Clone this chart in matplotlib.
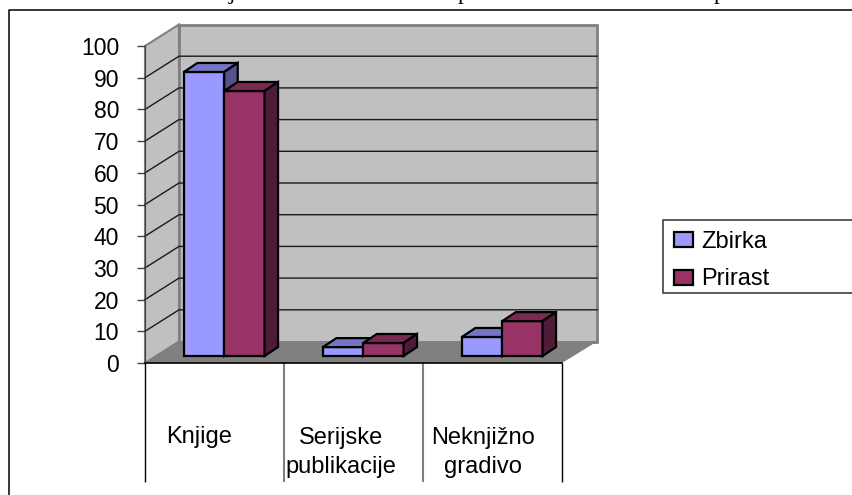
import matplotlib
matplotlib.use("Agg")
import matplotlib.pyplot as plt
from matplotlib.lines import Line2D
from matplotlib.patches import Patch, Polygon, Rectangle

plt.rcParams['font.family'] = ['Liberation Sans', 'DejaVu Sans']

categories = ['Knjige', 'Serijske\npublikacije', 'Neknjižno\ngradivo']
label_shift = [-0.11, -0.09, -0.07]   # labels sit a bit left of the category centre
series_names = ['Zbirka', 'Prirast']
zbirka = [89.6, 2.8, 6.0]
prirast = [83.6, 4.1, 11.0]
yticks = [0, 10, 20, 30, 40, 50, 60, 70, 80, 90, 100]

W, H = 852, 495
fig = plt.figure(figsize=(W / 100, H / 100), dpi=100)
# axes = front plane of the 3d box
ax = fig.add_axes([145 / W, 1 - 363 / H, 417 / W, 317 / H])
ax.set_xlim(0, 3)
ax.set_ylim(0, 100)
ax.patch.set_visible(False)

# depth of box and of bars, in data units
dx, dy = 34 / 139, 21.5 / 3.17
wall_r = 3 + 35 / 139
bar_dx, bar_dy = 13.5 / 139, 9 / 3.17
bar_w = 0.29
floor_up = 7 / 3.17

WALL = '#c0c0c0'
EDGE = '#808080'

# walls and floor
ax.add_patch(Polygon([(dx, dy), (wall_r, dy), (wall_r, 100 + dy), (dx, 100 + dy)],
                     fc=WALL, ec=EDGE, lw=2, clip_on=False, zorder=1))
ax.add_patch(Polygon([(0, 0), (dx, dy), (dx, 100 + dy), (0, 100)],
                     fc=WALL, ec=EDGE, lw=1.5, clip_on=False, zorder=1))
for t in yticks[1:-1]:
    ax.plot([0, dx, wall_r], [t, t + dy, t + dy], color='#1a1a1a', lw=1,
            clip_on=False, zorder=2)
ax.add_patch(Polygon([(0, 0), (dx, dy), (wall_r, dy), (3, 0)],
                     fc='#808080', ec='none', clip_on=False, zorder=2))


def draw_bars(lefts, vals, face, top, side):
    ax.bar(lefts, vals, width=bar_w, bottom=floor_up, align='edge', color=face,
           edgecolor='black', linewidth=1.6, clip_on=False, zorder=3)
    for x, v in zip(lefts, vals):
        y = floor_up + v
        ax.add_patch(Polygon([(x, y), (x + bar_dx, y + bar_dy),
                              (x + bar_w + bar_dx, y + bar_dy), (x + bar_w, y)],
                             fc=top, ec='black', lw=1.6, clip_on=False, zorder=3))
        ax.add_patch(Polygon([(x + bar_w, floor_up), (x + bar_w + bar_dx, floor_up + bar_dy),
                              (x + bar_w + bar_dx, y + bar_dy), (x + bar_w, y)],
                             fc=side, ec='black', lw=1.6, clip_on=False, zorder=3))


lefts = [i + 0.28 for i in range(3)]
draw_bars(lefts, zbirka, '#9999ff', '#7575c4', '#535390')
draw_bars([x + bar_w for x in lefts], prirast, '#993366', '#7a2952', '#4f1c37')

# separators below the floor
ax.vlines([0, 3], -37.6, 0, color='black', lw=1, clip_on=False, zorder=2)
ax.vlines([1, 2], -37.6, 0, color=EDGE, lw=1.5, clip_on=False, zorder=2)

for i, name in enumerate(categories):
    lab_y = -23.2 if '\n' not in name else -28.2
    ax.text(i + 0.5 + label_shift[i], lab_y, name, ha='center', va='center',
            fontsize=17, linespacing=1.43, clip_on=False)

ax.set_xticks([])
ax.set_yticks(yticks)
ax.tick_params(axis='y', length=6, width=1, pad=12.7, labelsize=16.5, color='#404040')
for s in ['top', 'right']:
    ax.spines[s].set_visible(False)
ax.spines['left'].set_color('#404040')
ax.spines['left'].set_zorder(4)
ax.spines['bottom'].set_color('black')
ax.spines['bottom'].set_linewidth(1.2)
ax.spines['bottom'].set_zorder(4)

# legend box runs off the right edge, so the frame is a separate rectangle
fig.add_artist(Rectangle((663 / W, 1 - 293 / H), 260 / W, 73 / H, fc='white', ec='#404040',
                         lw=1.2, transform=fig.transFigure))
handles = [Patch(fc='#9999ff', ec='black', lw=1.6), Patch(fc='#993366', ec='black', lw=1.6)]
fig.legend(handles, series_names, loc='lower left', frameon=False,
           bbox_to_anchor=(667.6 / W, 1 - 297 / H), borderaxespad=0, fontsize=17,
           handlelength=0.78, handleheight=0.6, handletextpad=0.35, labelspacing=0.67,
           borderpad=0.28)

# outer frame, runs off the page on the right and bottom
fig.add_artist(Line2D([9 / W, 9 / W, 1], [0, 1 - 10 / H, 1 - 10 / H], color='black', lw=1.1))

# descenders of the cropped line of text above the chart
for ch, px in zip(['j', 'p', 'p'], [232, 464, 719]):
    fig.text(px / W, 1 + 1 / H, ch, family='Liberation Serif', fontsize=17,
             ha='center', va='baseline')

fig.savefig('out.png', dpi=100)
